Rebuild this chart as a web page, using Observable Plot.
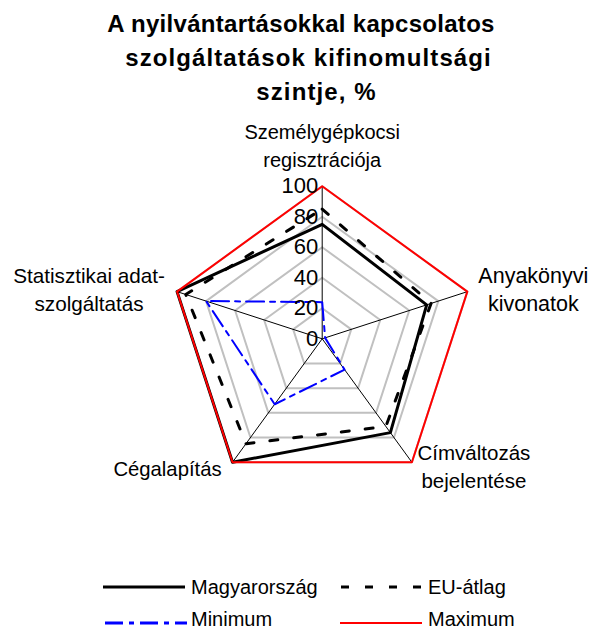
<!DOCTYPE html>
<html>
<head>
<meta charset="utf-8">
<script src="https://cdn.jsdelivr.net/npm/d3@7"></script>
<script src="https://cdn.jsdelivr.net/npm/@observablehq/plot@0.6"></script>
<style>
  html, body { margin: 0; padding: 0; background: #fff; }
  #wrap { position: relative; width: 591px; height: 631px; overflow: hidden; font-family: "Liberation Sans", Arial, sans-serif; }
  #wrap svg.plot { position: absolute; left: 0; top: 0; }
  .tline { position: absolute; font-weight: bold; font-size: 24px; line-height: 24px; white-space: nowrap; color: #000; transform: translateX(-50%); }
  .leg { position: absolute; font-size: 20px; line-height: 16px; white-space: nowrap; color: #000; }
  .sw { position: absolute; }
</style>
</head>
<body>
<div id="wrap"></div>
<script>
// ---- data ----
const titleLines = ["A nyilvántartásokkal kapcsolatos", "szolgáltatások kifinomultsági", "szintje, %"];
const categories = [
  "Személygépkocsi\nregisztrációja",
  "Anyakönyvi\nkivonatok",
  "Címváltozás\nbejelentése",
  "Cégalapítás",
  "Statisztikai adat-\nszolgáltatás"
];
const seriesNames = ["Magyarország", "EU-átlag", "Minimum", "Maximum"];
const magyarorszag = [75, 72, 76, 100, 100];
const euAtlag = [85, 75, 71, 85, 94];
const minimum = [24, 2, 25, 53, 80];
const maximum = [100, 100, 100, 100, 100];
const tickValues = [0, 20, 40, 60, 80, 100];
const gridLevels = [20, 40, 60, 80, 100];

// ---- layout ----
const W = 591, H = 631;
const cx = 321.7, cy = 338.3, R = 152.6; // centre (px) and pixel radius of 100
const n = categories.length;
const ang = i => i * 2 * Math.PI / n;
const px = (i, v) => v * Math.sin(ang(i));
const py = (i, v) => v * Math.cos(ang(i));

const seriesValues = [magyarorszag, euAtlag, minimum, maximum];
const seriesStyle = [
  {stroke: "#000000", strokeWidth: 3},
  {stroke: "#000000", strokeWidth: 3, strokeDasharray: "8,16"},
  {stroke: "#0000ff", strokeWidth: 2, strokeDasharray: "18,6,5,6"},
  {stroke: "#ff0000", strokeWidth: 2}
];
const labelOffsets = [[0, -42], [66, -4], [62, 3], [-65, 5], [-88, -4]];
const labelSizes = [20, 21.5, 20.5, 20.3, 20.7];

const gridPts = gridLevels.flatMap(l => categories.map((c, i) => ({level: l, x: px(i, l), y: py(i, l)})));
const spokes = categories.map((c, i) => ({x: px(i, 100), y: py(i, 100)}));

const marks = [];
marks.push(Plot.line(gridPts, {x: "x", y: "y", z: "level", curve: "linear-closed", stroke: "#c0c0c0", strokeWidth: 2}));
marks.push(Plot.link(spokes, {x1: 0, y1: 0, x2: "x", y2: "y", stroke: "#000", strokeWidth: 1}));
seriesValues.forEach((vals, s) => {
  const pts = vals.map((v, i) => ({x: px(i, v), y: py(i, v)}));
  marks.push(Plot.line(pts, {x: "x", y: "y", curve: "linear-closed", ...seriesStyle[s]}));
});
marks.push(Plot.text(tickValues, {x: 0, y: d => d, text: d => String(d), textAnchor: "end", dx: -4, fontSize: 22, fill: "#000"}));
categories.forEach((c, i) => {
  marks.push(Plot.text([c], {x: px(i, 100), y: py(i, 100), text: d => d, textAnchor: "middle", lineAnchor: "middle", lineHeight: 28 / labelSizes[i], fontSize: labelSizes[i], fill: "#000", dx: labelOffsets[i][0], dy: labelOffsets[i][1]}));
});

const k = 100 / R;
const chart = Plot.plot({
  width: W, height: H, margin: 0,
  x: {domain: [-cx * k, (W - cx) * k], range: [0, W], axis: null},
  y: {domain: [-(H - cy) * k, cy * k], range: [H, 0], axis: null},
  style: {fontFamily: "'Liberation Sans', Arial, sans-serif", background: "transparent", overflow: "visible"},
  marks
});
const wrap = document.getElementById("wrap");
wrap.appendChild(chart);

// title
const titleCenters = [301, 308.5, 316.5];
const titleBaselines = [32, 66, 100];
const titleSpacing = [0.3, 1.1, 1.1];
titleLines.forEach((t, i) => {
  const d = document.createElement("div");
  d.className = "tline";
  d.textContent = t;
  d.style.left = titleCenters[i] + "px";
  d.style.letterSpacing = titleSpacing[i] + "px";
  d.style.top = (titleBaselines[i] - 20.3) + "px";
  wrap.appendChild(d);
});

// legend
const legPos = [
  {sx: 103, tx: 191, ly: 586.7, base: 593.5},
  {sx: 341, tx: 428, ly: 586.7, base: 593.5},
  {sx: 105, tx: 191, ly: 622.5, base: 626.3},
  {sx: 340, tx: 428, ly: 622.5, base: 626.3}
];
seriesNames.forEach((name, s) => {
  const p = legPos[s];
  const st = seriesStyle[s];
  const svg = document.createElementNS("http://www.w3.org/2000/svg", "svg");
  svg.setAttribute("class", "sw");
  svg.setAttribute("width", 82); svg.setAttribute("height", 8);
  svg.style.left = p.sx + "px"; svg.style.top = (p.ly - 4) + "px";
  const ln = document.createElementNS("http://www.w3.org/2000/svg", "line");
  ln.setAttribute("x1", 0); ln.setAttribute("x2", 82); ln.setAttribute("y1", 4); ln.setAttribute("y2", 4);
  ln.setAttribute("stroke", st.stroke);
  ln.setAttribute("stroke-width", s === 2 ? 3 : st.strokeWidth);
  if (st.strokeDasharray) ln.setAttribute("stroke-dasharray", st.strokeDasharray);
  svg.appendChild(ln);
  wrap.appendChild(svg);
  const t = document.createElement("div");
  t.className = "leg";
  t.textContent = name;
  t.style.left = p.tx + "px";
  t.style.top = (p.base - 14.9) + "px";
  wrap.appendChild(t);
});
</script>
</body>
</html>
